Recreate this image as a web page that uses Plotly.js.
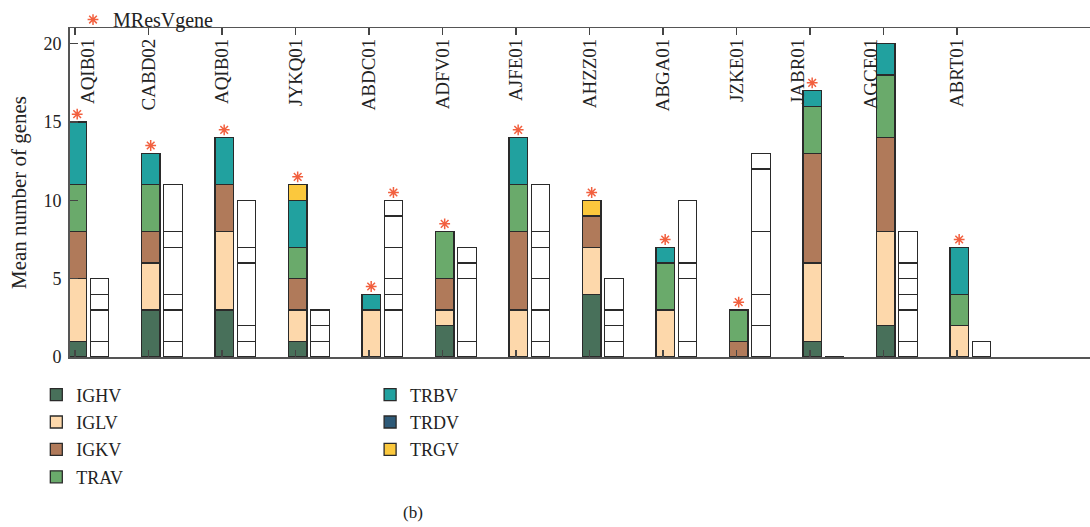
<!DOCTYPE html>
<html><head><meta charset="utf-8">
<script src="https://cdn.plot.ly/plotly-3.0.1.min.js"></script>
<style>html,body{margin:0;padding:0;background:#fff}#chart{width:1090px;height:527px}</style>
</head><body><div id="chart"></div>
<script>
const categories = ['AQIB01','CABD02','AQIB01','JYKQ01','ABDC01','ADFV01','AJFE01','AHZZ01','ABGA01','JZKE01','JABR01','AGCE01','ABRT01'];
const IGHV = [1,3,3,1,0,2,0,4,0,0,1,2,0];
const IGLV = [4,3,5,2,3,1,3,3,3,0,5,6,2];
const IGKV = [3,2,3,2,0,2,5,2,0,1,7,6,0];
const TRAV = [3,3,0,2,0,3,3,0,3,2,3,4,2];
const TRBV = [4,2,3,3,1,0,3,0,1,0,1,2,3];
const TRDV = [0,0,0,0,0,0,0,0,0,0,0,0,0];
const TRGV = [0,0,0,1,0,0,0,1,0,0,0,0,0];
// outlined (white) comparison bars: segment sizes from bottom to top
const otherSegments = [[1,2,1,1],[1,2,1,3,1,3],[1,1,4,1,3],[1,1,1],[3,1,1,2,2,1],[1,4,1,1],[1,2,2,2,1,3],[1,1,1,2],[1,4,1,4],[2,2,4,4,1],[0],[1,2,1,1,1,2],[1]];
const starOnGenes = [1,1,1,1,1,1,1,1,1,1,1,0,1];
const starOnOther = [0,0,0,0,1,0,0,0,0,0,0,0,0];

const seriesNames = ['IGHV','IGLV','IGKV','TRAV','TRBV','TRDV','TRGV'];
const seriesData = [IGHV,IGLV,IGKV,TRAV,TRBV,TRDV,TRGV];
const seriesColors = ['#48705a','#fdd8ab','#b07a5a','#6aaa6b','#21a19f','#2e5a78','#fbc83d'];

// label nudges (style only): +1 = nudge right, -1 = nudge left
const labelNudge = {0: 1, 10: -1, 11: -1};

const FONT = 'Liberation Serif, Times New Roman, serif';
const idx = categories.map((c,i)=>i);
const xGenes = idx.map(i=>i+0.03);
const xOther = idx.map(i=>i+0.333);
const BW = 0.252;
const outline = {color:'#2a2a2a', width:1.3};
const XR = [-0.095, 13.81];

const tickLabels = categories.map((c,i)=>{
  const n = labelNudge[i] || 0;
  if(n > 0) return ' <br>' + c;
  if(n < 0) return c + '<br> ';
  return c;
});

const traces = [];
seriesNames.forEach((name,k)=>{
  traces.push({
    type:'bar', name:name, x:xGenes, y:seriesData[k].map(v=>v===0?null:v),
    width:BW, marker:{color:seriesColors[k], line:outline},
    legend: k<4 ? 'legend' : 'legend2', legendgroup:name, hoverinfo:'skip'
  });
});
const maxSeg = Math.max(...otherSegments.map(s=>s.length));
for(let k=0;k<maxSeg;k++){
  traces.push({
    type:'bar', x:xOther, y:otherSegments.map(s=>k<s.length?s[k]:null),
    width:BW, marker:{color:'#ffffff', line:outline}, showlegend:false, hoverinfo:'skip'
  });
}
const totGenes = idx.map(i=>seriesData.reduce((a,s)=>a+s[i],0));
const totOther = otherSegments.map(s=>s.reduce((a,b)=>a+b,0));
const sx=[], sy=[];
idx.forEach(i=>{
  if(starOnGenes[i]){sx.push(xGenes[i]); sy.push(totGenes[i]+0.5);}
  if(starOnOther[i]){sx.push(xOther[i]); sy.push(totOther[i]+0.5);}
});
traces.push({
  type:'scatter', mode:'markers', name:'MResVgene', x:sx, y:sy, legend:'legend3',
  marker:{symbol:'asterisk-open', size:9, line:{color:'#f2603f', width:1.5}, color:'#f2603f'},
  hoverinfo:'skip', cliponaxis:false
});

const layout = {
  width:1090, height:527,
  margin:{l:68, r:0, t:28, b:170},
  paper_bgcolor:'#fff', plot_bgcolor:'#fff',
  barmode:'stack',
  font:{family:FONT, color:'#222'},
  xaxis:{
    range:XR, side:'top', tickmode:'array', tickvals:idx, ticktext:tickLabels,
    ticks:'inside', ticklen:7, tickwidth:1.3, tickcolor:'#444',
    ticklabelposition:'inside', tickangle:-90, ticklabelstandoff:-6, ticklabeloverflow:'allow',
    tickfont:{family:FONT, size:19, color:'#222'},
    showline:true, linecolor:'#555', linewidth:1.5, mirror:'ticks',
    showgrid:false, zeroline:false, fixedrange:true
  },
  yaxis:{
    range:[0,21], anchor:'free', position:0, tickmode:'array', tickvals:[0,5,10,15,20],
    ticks:'inside', ticklen:8, tickwidth:1.3, tickcolor:'#444',
    tickfont:{family:FONT, size:18, color:'#222'}, ticklabelstandoff:3,
    showline:true, linecolor:'#555', linewidth:1.5,
    showgrid:false, zeroline:false, fixedrange:true,
    title:{text:'Mean number of genes', font:{family:FONT, size:21, color:'#222'}, standoff:9}
  },
  legend:{x:-0.031, xanchor:'left', y:-0.059, yanchor:'top', orientation:'v',
    font:{family:FONT, size:18, color:'#222'}, traceorder:'grouped', tracegroupgap:1, bgcolor:'rgba(0,0,0,0)'},
  legend2:{x:0.2956, xanchor:'left', y:-0.059, yanchor:'top', orientation:'v',
    font:{family:FONT, size:18, color:'#222'}, traceorder:'grouped', tracegroupgap:1, bgcolor:'rgba(0,0,0,0)'},
  legend3:{x:0.0049, xanchor:'left', y:1.085, yanchor:'top', orientation:'h',
    font:{family:FONT, size:20, color:'#222'}, bgcolor:'rgba(0,0,0,0)'},
  annotations:[{text:'(b)', xref:'paper', yref:'paper', x:0.3376, y:-0.474, yanchor:'middle', showarrow:false,
    font:{family:FONT, size:17, color:'#222'}}]
};
Plotly.newPlot('chart', traces, layout, {displayModeBar:false, staticPlot:true});
</script></body></html>
